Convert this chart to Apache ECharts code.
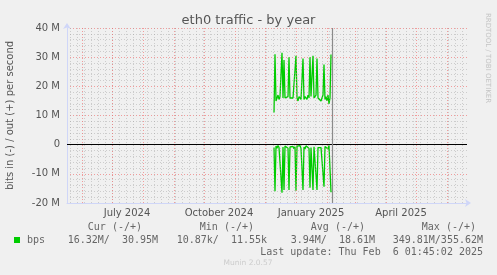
<!DOCTYPE html>
<html><head><meta charset="utf-8">
<script src="https://cdn.jsdelivr.net/npm/echarts@6/dist/echarts.min.js"></script>
<style>html,body{margin:0;padding:0;background:#f0f0f0;}#c{width:497px;height:275px;}</style>
</head><body><div id="c"></div>
<script>
// ---- data (values in M bits/s) ----
const dates = ['2024-12-10','2024-12-11','2024-12-12','2024-12-13','2024-12-14','2024-12-15','2024-12-16','2024-12-17','2024-12-18','2024-12-19','2024-12-20','2024-12-21','2024-12-22','2024-12-23','2024-12-24','2024-12-25','2024-12-26','2024-12-27','2024-12-28','2024-12-29','2024-12-30','2024-12-31','2025-01-01','2025-01-02','2025-01-03','2025-01-04','2025-01-05','2025-01-06','2025-01-07','2025-01-08','2025-01-09','2025-01-10','2025-01-11','2025-01-12','2025-01-13','2025-01-14','2025-01-15','2025-01-16','2025-01-17','2025-01-18','2025-01-19','2025-01-20','2025-01-21','2025-01-22','2025-01-23','2025-01-24','2025-01-25','2025-01-26','2025-01-27','2025-01-28','2025-01-29','2025-01-30','2025-01-31','2025-02-01','2025-02-02','2025-02-03','2025-02-04','2025-02-05'];
const outValues = [11,31,15,16,17,15.5,16.5,16,31.5,16,29,16,16.5,15.5,16.5,30,16,15.5,16.5,16,15.5,16,30.5,16,15,16.5,16,15.5,16,29.5,15.5,16.5,16,15.5,17,16,30,16.5,17,30.5,16,16.5,17,29.5,16,15.5,16.5,15,16,17,27.5,15.5,16.5,15,17,14,16,30.95];
const inValues = [-1,-16,-0.5,-1.2,-0.3,-1,-0.6,-1.3,-16.5,-0.8,-15.5,-0.5,-1,-0.4,-1.2,-15.5,-0.8,-0.3,-1,-0.6,-1.4,-0.7,-15.8,-0.5,-1,-0.8,-0.3,-1.2,-0.6,-15.5,-0.8,-1.5,-0.4,-1,-0.6,-1.3,-14.8,-1,-0.5,-15.5,-0.7,-1.2,-0.5,-15.5,-1,-0.6,-1.4,-1,-0.8,-1.2,-14.4,-0.6,-1,-0.4,-1.5,-0.3,-0.8,-16.32];
const xStart = '2024-05-17', xEnd = '2025-06-21';
const nowTime = '2025-02-06T01:45:02';
const monthStarts = ['2024-06-01','2024-07-01','2024-08-01','2024-09-01','2024-10-01','2024-11-01','2024-12-01','2025-01-01','2025-02-01','2025-03-01','2025-04-01','2025-05-01','2025-06-01'];
const monthLabelDates = ['2024-07-16','2024-10-16','2025-01-16','2025-04-16'];
const monthLabels = ['July 2024','October 2024','January 2025','April 2025'];
const firstWeekLine = '2024-05-20';
const yTicks = {min:-20, max:40, step:10};
const legendHeaders = ['Cur (-/+)','Min (-/+)','Avg (-/+)','Max (-/+)'];
const legendValues = ['16.32M/  30.95M','10.87k/  11.55k','3.94M/  18.61M','349.81M/355.62M'];
const lastUpdate = 'Last update: Thu Feb  6 01:45:02 2025';

// ---- build ----
const ts = s => new Date(s + (s.length === 10 ? 'T00:00:00Z' : 'Z')).getTime();
const weekLines = [];
for (let t = ts(firstWeekLine); t < ts(xEnd); t += 7*86400000) weekLines.push(t);
const outData = dates.map((d,i) => [ts(d), outValues[i]*1e6]);
const inData = dates.map((d,i) => [ts(d), inValues[i]*1e6]);
const labelTs = monthLabelDates.map(ts);

const FONT = 'DejaVu Sans';
const MONO = 'DejaVu Sans Mono';
const MINOR = 'rgba(150,150,150,0.4)';
const MAJOR = 'rgba(240,110,110,0.65)';
const chart = echarts.init(document.getElementById('c'), null, {renderer:'canvas'});
const monoText = (x, y, text, align, color) => ({type:'text', x, y, style:{text, fill: color||'#666', font: '10px "'+MONO+'"', textAlign: align||'right', textVerticalAlign:'middle'}, silent:true});

const graphics = [
  {type:'text', x:488, y:58, rotation:-Math.PI/2, style:{text:'RRDTOOL / TOBI OETIKER', fill:'#c4c4c4', font:'7px "'+FONT+'"', textAlign:'center', textVerticalAlign:'middle'}},
  {type:'rect', shape:{x:14, y:237, width:6, height:6}, style:{fill:'#00cc00'}},
  monoText(27, 240, 'bps', 'left'),
  monoText(142, 227, legendHeaders[0]), monoText(254, 227, legendHeaders[1]),
  monoText(365, 227, legendHeaders[2]), monoText(476, 227, legendHeaders[3]),
  monoText(158, 240, legendValues[0]), monoText(267, 240, legendValues[1]),
  monoText(375, 240, legendValues[2]), monoText(483, 240, legendValues[3]),
  monoText(483, 252, lastUpdate),
  {type:'text', x:248, y:263, style:{text:'Munin 2.0.57', fill:'#cccccc', font:'7.5px "'+FONT+'"', textAlign:'center', textVerticalAlign:'middle'}}
];

const option = {
  backgroundColor:'#f0f0f0',
  animation:false,
  title:{text:'eth0 traffic - by year', left:'center', top:9, textStyle:{fontFamily:FONT, fontSize:13, fontWeight:'normal', color:'#555'}},
  grid:{left:67, right:30, top:28, bottom:72, containLabel:false, outerBoundsMode:'none'},
  xAxis:{
    type:'value', min:ts(xStart), max:ts(xEnd),
    axisLine:{onZero:false, show:true, lineStyle:{color:'#cfd6f8', width:1}, symbol:['none','arrow'], symbolSize:[6,6], symbolOffset:[0,4]},
    axisTick:{show:false},
    splitLine:{show:false},
    axisLabel:{customValues:labelTs, formatter:(v)=>{const i = labelTs.indexOf(v); return i>=0?monthLabels[i]:'';}, fontFamily:FONT, fontSize:10, color:'#555', margin:5, hideOverlap:false, showMinLabel:true, showMaxLabel:true}
  },
  yAxis:{
    type:'value', min:yTicks.min*1e6, max:yTicks.max*1e6, interval:yTicks.step*1e6,
    name:'bits in (-) / out (+) per second', nameLocation:'middle', nameGap:52, nameRotate:90,
    nameTextStyle:{fontFamily:FONT, fontSize:10, color:'#555'},
    axisLine:{onZero:false, show:true, lineStyle:{color:'#cfd6f8', width:1}, symbol:['none','arrow'], symbolSize:[6,6], symbolOffset:[0,5]},
    axisTick:{show:false},
    axisLabel:{formatter:v=> v===0?'0':(v/1e6)+' M', fontFamily:FONT, fontSize:10, color:'#555', margin:7},
    splitLine:{show:true, lineStyle:{color:MAJOR, type:[1,2], width:1}},
    minorTick:{show:false, splitNumber:5},
    minorSplitLine:{show:true, lineStyle:{color:MINOR, type:[1,2], width:1}}
  },
  series:[
    {type:'line', data:[], silent:true, z:1,
     markLine:{silent:true, symbol:'none', label:{show:false}, animation:false,
       data:[...weekLines.map(t=>({xAxis:t, lineStyle:{color:MINOR, type:[1,2], width:1}})),
             ...monthStarts.map(s=>({xAxis:ts(s), lineStyle:{color:MAJOR, type:[1,2], width:1}}))]}},
    {type:'line', data:[], silent:true, z:2,
     markLine:{silent:true, symbol:'none', label:{show:false}, animation:false,
       data:[{yAxis:0, lineStyle:{color:'#000', type:'solid', width:1}}]}},
    {name:'out', type:'line', data:outData, showSymbol:false, z:3, lineStyle:{color:'#00cc00', width:1.3}, itemStyle:{color:'#00cc00'}},
    {name:'in', type:'line', data:inData, showSymbol:false, z:3, lineStyle:{color:'#00cc00', width:1.3}, itemStyle:{color:'#00cc00'}},
    {type:'line', data:[], silent:true, z:4,
     markLine:{silent:true, symbol:'none', label:{show:false}, animation:false,
       data:[{xAxis:ts(nowTime), lineStyle:{color:'#8a8a8a', type:'solid', width:1.2}}]}}
  ],
  graphic:graphics
};
chart.setOption(option);
</script>
</body></html>
